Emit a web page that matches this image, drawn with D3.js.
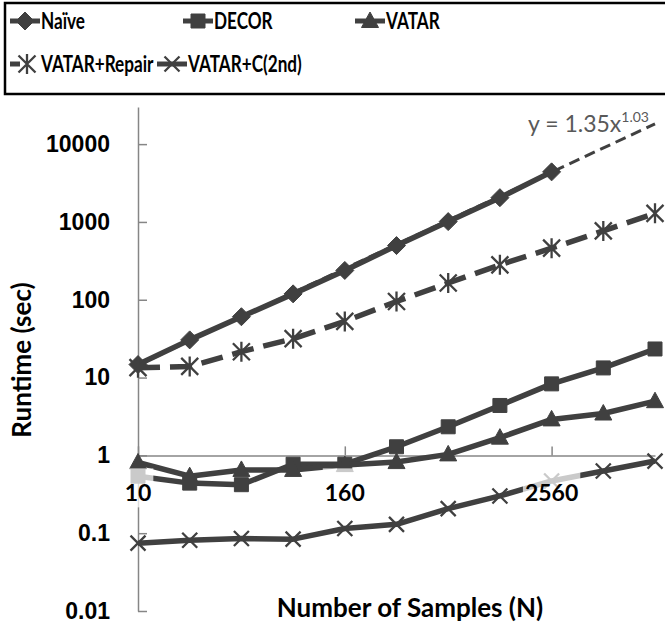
<!DOCTYPE html>
<html>
<head>
<meta charset="utf-8">
<script src="https://cdn.jsdelivr.net/npm/d3@7"></script>
<style>
  body { margin: 0; background: #fff; }
  svg { display: block; font-family: Lato, "Open Sans", sans-serif; }
</style>
</head>
<body>
<div id="chart"></div>
<script>
// sample sizes N (log2 axis)
const samples = [10, 20, 40, 80, 160, 320, 640, 1280, 2560, 5120, 10240];

// runtimes in seconds
const naive = [14.7, 30.5, 60.5, 119, 238, 497, 1010, 2050, 4400];
const decor = [0.54, 0.44, 0.42, 0.77, 0.77, 1.29, 2.33, 4.38, 8.3, 13.3, 23.3];
const vatar = [0.81, 0.54, 0.65, 0.65, 0.75, 0.82, 1.03, 1.69, 2.9, 3.45, 4.97];
const vatarRepair = [13.4, 13.9, 21.5, 31.6, 52.7, 95, 164, 281, 460, 767, 1290];
const vatarC2 = [0.0745, 0.081, 0.0855, 0.0838, 0.115, 0.13, 0.207, 0.301, 0.469, 0.63, 0.845];

// power-law trendline on naive (straight in log-log), end points
const trendX = [10, 10240];
const trendY = [14.5, 18200];

const yTicks = [0.01, 0.1, 1, 10, 100, 1000, 10000];
const xTicks = [10, 160, 2560];

const series = [
  { name: "Naïve", values: naive, marker: "diamond", dash: null },
  { name: "DECOR", values: decor, marker: "square", dash: null },
  { name: "VATAR", values: vatar, marker: "triangle", dash: null },
  { name: "VATAR+Repair", values: vatarRepair, marker: "star", dash: "22,10" },
  { name: "VATAR+C(2nd)", values: vatarC2, marker: "cross", dash: null }
];

const W = 665, H = 629;
const ink = "#404040";
const axisGray = "#868686";

const svg = d3.select("#chart").append("svg")
  .attr("width", W)
  .attr("height", H);

const x = d3.scaleLog().base(2).domain([10, 10240]).range([138, 655]);
const y = d3.scaleLog().domain([0.01, 30000]).range([611, 107]);

// marker shapes
function markerPath(kind) {
  if (kind === "diamond") return "M0,-9L9,0L0,9L-9,0Z";
  if (kind === "square") return "M-7,-7H7V7H-7Z";
  if (kind === "triangle") return "M0,-9L8.5,6.5L-8.5,6.5Z";
  if (kind === "star") return "M0,-10V10M-8.5,-8.5L8.5,8.5M-8.5,8.5L8.5,-8.5";
  return "M-7.5,-7.5L7.5,7.5M-7.5,7.5L7.5,-7.5";
}
function drawMarker(sel, kind) {
  const line = kind === "star" || kind === "cross";
  sel.append("path")
    .attr("d", markerPath(kind))
    .attr("fill", line ? "none" : ink)
    .attr("stroke", ink)
    .attr("stroke-width", line ? 2.3 : 1);
}

// y axis
const yAxis = d3.axisLeft(y)
  .tickValues(yTicks)
  .tickFormat(d => String(d))
  .tickSizeInner(-9)
  .tickSizeOuter(0)
  .tickPadding(28);
const gy = svg.append("g").attr("transform", "translate(138,0)").call(yAxis);
gy.select(".domain").attr("stroke", axisGray).attr("stroke-width", 1.5);
gy.selectAll(".tick line").attr("stroke", axisGray).attr("stroke-width", 1.5);
gy.selectAll(".tick text")
  .attr("fill", "#000")
  .style("font-size", "23px")
  .style("font-weight", "bold");

// x axis (crossing at y = 1), lines and ticks only
const xAxis = d3.axisBottom(x)
  .tickValues(xTicks)
  .tickFormat("")
  .tickSizeInner(-9)
  .tickSizeOuter(0);
const gx = svg.append("g").attr("transform", `translate(0,${y(1)})`).call(xAxis);
gx.select(".domain").attr("stroke", axisGray).attr("stroke-width", 1.5);
gx.selectAll(".tick line").attr("stroke", axisGray).attr("stroke-width", 1.5);

// trendline
svg.append("path")
  .attr("d", d3.line().x(d => x(d[0])).y(d => y(d[1]))(d3.zip(trendX, trendY)))
  .attr("fill", "none")
  .attr("stroke", ink)
  .attr("stroke-width", 3)
  .attr("stroke-dasharray", "11,6");

const line = d3.line()
  .x((d, i) => x(samples[i]))
  .y(d => y(d));

series.forEach(s => {
  svg.append("path")
    .attr("d", line(s.values))
    .attr("fill", "none")
    .attr("stroke", ink)
    .attr("stroke-width", 5.5)
    .attr("stroke-linejoin", "round")
    .attr("stroke-dasharray", s.dash);
  svg.append("g")
    .selectAll("g")
    .data(s.values)
    .join("g")
    .attr("transform", (d, i) => `translate(${x(samples[i])},${y(d)})`)
    .each(function () { drawMarker(d3.select(this), s.marker); });
});

// x tick labels, on a translucent white box like the original
const xl = svg.append("g").attr("transform", `translate(0,${y(1)})`);
xTicks.forEach(t => {
  const g = xl.append("g").attr("transform", `translate(${x(t)},0)`);
  const bg = g.append("rect");
  const txt = g.append("text")
    .attr("text-anchor", "middle")
    .attr("y", 46)
    .style("font-size", "23px")
    .style("font-weight", "bold")
    .text(t);
  const b = txt.node().getBBox();
  bg.attr("x", b.x - 2).attr("y", 13).attr("width", b.width + 4).attr("height", 39)
    .attr("fill", "#fff").attr("opacity", 0.72);
});

// trendline equation
const eq = svg.append("text")
  .attr("x", 528)
  .attr("y", 132)
  .attr("fill", "#595959")
  .style("font-size", "23px");
eq.append("tspan").text("y = 1.35x");
eq.append("tspan").attr("dy", -10).style("font-size", "14px").text("1.03");

// axis titles
svg.append("text")
  .attr("x", 410)
  .attr("y", 617)
  .attr("text-anchor", "middle")
  .style("font-size", "26px")
  .style("font-weight", "bold")
  .text("Number of Samples (N)");
svg.append("text")
  .attr("transform", "translate(31,360) rotate(-90)")
  .attr("text-anchor", "middle")
  .style("font-size", "26px")
  .style("font-weight", "bold")
  .text("Runtime (sec)");

// legend
svg.append("rect")
  .attr("x", 5).attr("y", 3)
  .attr("width", 700).attr("height", 91)
  .attr("fill", "none")
  .attr("stroke", "#000")
  .attr("stroke-width", 2.5);

const legendPos = [
  { x: 10, y: 21 }, { x: 183, y: 21 }, { x: 355, y: 21 },
  { x: 10, y: 64 }, { x: 157, y: 64 }
];
series.forEach((s, i) => {
  const p = legendPos[i];
  const g = svg.append("g").attr("transform", `translate(${p.x},${p.y})`);
  g.append("line")
    .attr("x1", 0).attr("x2", s.dash ? 10 : 30)
    .attr("stroke", ink).attr("stroke-width", 5);
  const m = g.append("g").attr("transform", s.dash ? "translate(17,0)" : "translate(15,0)");
  drawMarker(m, s.marker);
  const t = g.append("text")
    .attr("x", 31)
    .attr("dy", "0.36em")
    .style("font-size", "22px")
    .style("font-weight", "bold")
    .text(s.name);
  // narrower, Calibri-like set width
  t.attr("textLength", t.node().getComputedTextLength() * 0.78)
    .attr("lengthAdjust", "spacingAndGlyphs");
});
</script>
</body>
</html>
